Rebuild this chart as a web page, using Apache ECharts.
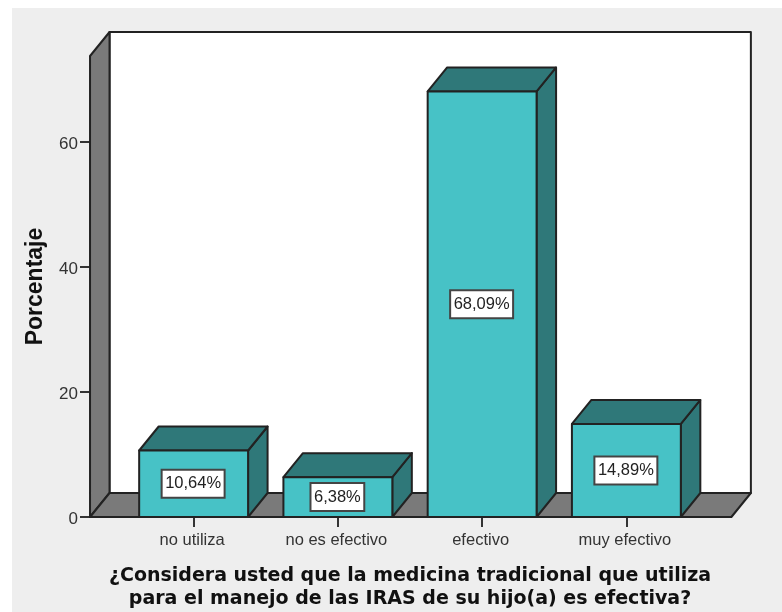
<!DOCTYPE html>
<html><head><meta charset="utf-8">
<style>
html,body{margin:0;padding:0;background:#fff;width:782px;height:612px;overflow:hidden}
#bg{position:absolute;left:12px;top:8px;width:770px;height:604px;background:#eeeeee}
#c{position:absolute;left:0;top:0;width:782px;height:612px}
</style>
<script src="https://cdn.jsdelivr.net/npm/echarts@6/dist/echarts.min.js"></script>
</head><body><div id="bg"></div><div id="c"></div>
<script>
const categories = ['no utiliza', 'no es efectivo', 'efectivo', 'muy efectivo'];
const percentages = [10.64, 6.38, 68.09, 14.89];
const yTicks = [0, 20, 40, 60];
const yAxisName = 'Porcentaje';
const xAxisTitle = '¿Considera usted que la medicina tradicional que utiliza\npara el manejo de las IRAS de su hijo(a) es efectiva?';

const DX = 19.5, DY = 24, Y_MAX = 73.76;
const FRONT = '#47c2c6', SIDE = '#2f7879', WALL = '#7a7a7a';
const fmt = v => v.toFixed(2).replace('.', ',') + '%';
const chart = echarts.init(document.getElementById('c'), null, {renderer: 'canvas'});

function poly(points, fill, w) {
  return {type: 'polygon', shape: {points}, style: {fill, stroke: '#222', lineWidth: w || 2, lineJoin: 'round'}};
}
function renderWalls(params, api) {
  const x0 = api.coord([0, 0])[0] - 103.6, x1 = api.coord([3, 0])[0] + 105;
  const y0 = api.coord([0, 0])[1], yT = api.coord([0, Y_MAX])[1];
  return {type: 'group', children: [
    poly([[x0 + DX, yT - DY], [x1 + DX, yT - DY], [x1 + DX, y0 - DY], [x0 + DX, y0 - DY]], '#ffffff'),
    poly([[x0, y0], [x0, yT], [x0 + DX, yT - DY], [x0 + DX, y0 - DY]], WALL),
    poly([[x0, y0], [x1, y0], [x1 + DX, y0 - DY], [x0 + DX, y0 - DY]], WALL)
  ]};
}
function renderBar(params, api) {
  const i = api.value(0), v = api.value(1);
  const bw = api.size([1, 0])[0] * 0.755;
  const [cx, yB] = api.coord([i, 0]);
  const yT = api.coord([i, v])[1];
  const l = cx - bw / 2, r = cx + bw / 2;
  return {type: 'group', children: [
    poly([[r, yB], [r, yT], [r + DX, yT - DY], [r + DX, yB - DY]], SIDE),
    poly([[l, yT], [r, yT], [r + DX, yT - DY], [l + DX, yT - DY]], SIDE),
    poly([[l, yB], [l, yT], [r, yT], [r, yB]], FRONT),
    {type: 'text', x: cx - 0.5, y: (yT + yB) / 2, style: {
      text: fmt(v), align: 'center', verticalAlign: 'middle',
      font: '16.5px "Liberation Sans"', fill: '#222',
      backgroundColor: '#fff', borderColor: '#444', borderWidth: 2,
      padding: [5, 2.5, 4, 2.5]
    }}
  ]};
}
chart.setOption({
  animation: false,
  backgroundColor: 'transparent',
  title: {text: xAxisTitle, left: 405, top: 560, textAlign: 'center',
    textStyle: {fontFamily: 'DejaVu Sans', fontWeight: 'bold', fontSize: 19, lineHeight: 23, color: '#111'}},
  grid: {left: 121.5, top: 56, width: 577, height: 461, containLabel: false},
  xAxis: {type: 'category', data: categories,
    axisLine: {show: false},
    axisTick: {show: true, alignWithLabel: true, length: 10, lineStyle: {color: '#333', width: 2}},
    axisLabel: {fontFamily: 'Liberation Sans', fontSize: 16.5, color: '#333', margin: 15, padding: [0, 3, 0, 0]}},
  yAxis: {type: 'value', min: 0, max: Y_MAX, interval: 20, offset: 31.5,
    name: yAxisName, nameLocation: 'middle', nameGap: 43,
    nameTextStyle: {fontFamily: 'Liberation Sans', fontWeight: 'bold', fontSize: 23, color: '#111'},
    splitLine: {show: false},
    axisLine: {show: false},
    axisTick: {show: true, length: 10, customValues: yTicks, lineStyle: {color: '#333', width: 2}},
    axisLabel: {margin: 12, customValues: yTicks, formatter: '{v|{value}}',
      rich: {v: {fontFamily: 'Liberation Sans', fontSize: 17, color: '#333', padding: [5, 0, 0, 0]}}}},
  series: [
    {type: 'custom', z: 1, silent: true, renderItem: renderWalls, data: [[0, 0]], clip: false},
    {type: 'custom', z: 2, silent: true, renderItem: renderBar, clip: false,
      encode: {x: 0, y: 1}, data: percentages.map((v, i) => [i, v])}
  ]
});
</script></body></html>
